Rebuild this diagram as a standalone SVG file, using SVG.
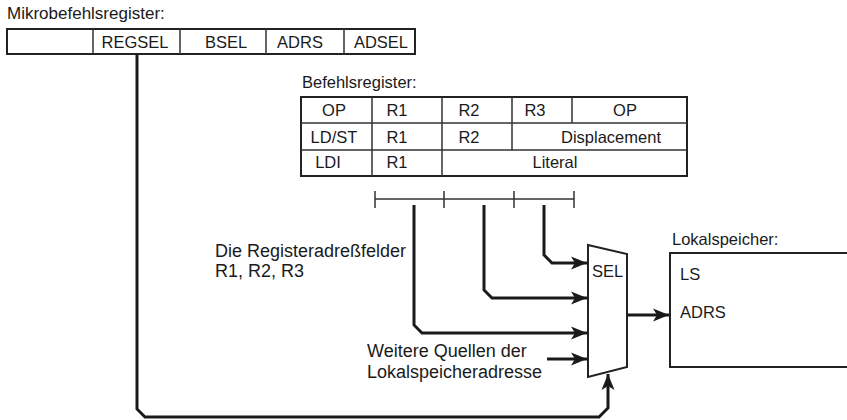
<svg xmlns="http://www.w3.org/2000/svg" width="847" height="420" viewBox="0 0 847 420">
<style>
text{font-family:"Liberation Sans",Arial,sans-serif;font-size:16.5px;fill:#1a1a1a}
.m{text-anchor:middle}
.lg{font-size:18px}
.box{fill:#fff;stroke:#222;stroke-width:2}
.thin{fill:none;stroke:#333;stroke-width:1.5}
.wire{fill:none;stroke:#1a1a1a;stroke-width:3;stroke-linejoin:miter}
</style>
<defs>
<marker id="ah" markerUnits="userSpaceOnUse" markerWidth="17" markerHeight="14" refX="16" refY="7" orient="auto">
<path d="M0,0.5 L16,7 L0,13.5 L4,7 z" fill="#1a1a1a"/>
</marker>
</defs>
<rect width="847" height="420" fill="#fff"/>

<g id="mikrobefehlsregister">
<text x="7" y="19" style="font-size:17px">Mikrobefehlsregister:</text>
<rect class="box" x="7" y="29" width="408" height="25"/>
<path class="thin" d="M93,29V54M180,29V54M266,29V54M344,29V54"/>
<text class="m" x="135" y="48">REGSEL</text>
<text class="m" x="226" y="48">BSEL</text>
<text class="m" x="300" y="48">ADRS</text>
<text class="m" x="381" y="48">ADSEL</text>
</g>

<g id="befehlsregister">
<text x="302" y="88">Befehlsregister:</text>
<rect class="box" x="301" y="97" width="386" height="79"/>
<path class="thin" d="M301,123H687M301,150H687M372,97V176M442,97V176M512,97V150M572,97V123"/>
<text class="m" x="334" y="116">OP</text>
<text class="m" x="397" y="116">R1</text>
<text class="m" x="469" y="116">R2</text>
<text class="m" x="535" y="116">R3</text>
<text class="m" x="625" y="116">OP</text>
<text class="m" x="334" y="143">LD/ST</text>
<text class="m" x="397" y="143">R1</text>
<text class="m" x="469" y="143">R2</text>
<text class="m" x="611" y="143">Displacement</text>
<text class="m" x="328" y="168">LDI</text>
<text class="m" x="397" y="168">R1</text>
<text class="m" x="555" y="168">Literal</text>
</g>

<g id="feldskala">
<path class="thin" d="M375,199H574M375,191V208M444,191V208M514,191V208M574,191V208"/>
</g>

<g id="sel">
<path class="box" d="M588,245L627,254V367L588,377Z"/>
<text x="592" y="277">SEL</text>
</g>

<g id="lokalspeicher">
<text x="672" y="245">Lokalspeicher:</text>
<path d="M848,253H670V367H848" fill="#fff" stroke="#222" stroke-width="2"/>
<text x="680" y="280">LS</text>
<text x="680" y="318">ADRS</text>
</g>

<g id="labels">
<text class="lg" x="215" y="257">Die Registeradreßfelder</text>
<text class="lg" x="215" y="277">R1, R2, R3</text>
<text class="lg" x="367" y="357">Weitere Quellen der</text>
<text class="lg" x="367" y="378">Lokalspeicheradresse</text>
</g>

<g id="connectors">
<path class="wire" marker-end="url(#ah)" d="M544,205V255L552,263H587"/>
<path class="wire" marker-end="url(#ah)" d="M484,205V290L492,298H587"/>
<path class="wire" marker-end="url(#ah)" d="M414,205V325L422,333H587"/>
<path class="wire" marker-end="url(#ah)" d="M547,359H587"/>
<path class="wire" marker-end="url(#ah)" d="M627,315H669"/>
<path class="wire" marker-end="url(#ah)" d="M137,54V409L145,417H599L608,408V374"/>
</g>
</svg>
